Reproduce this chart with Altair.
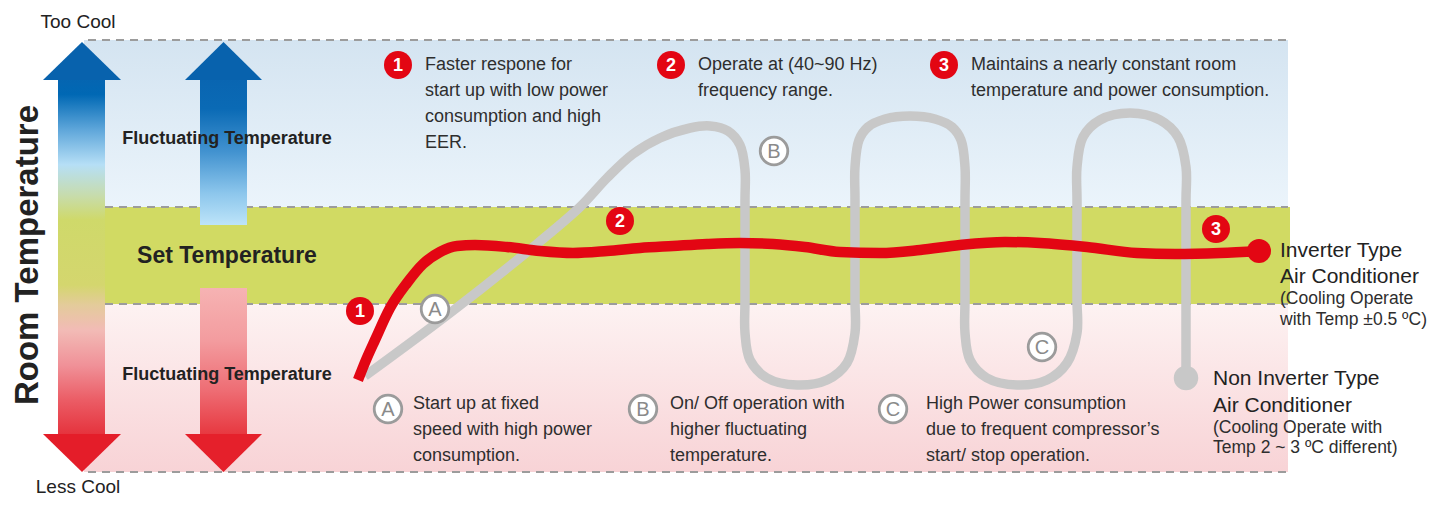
import altair as alt
import pandas as pd

FONT = "Liberation Sans"

# ---------------- drawing frame ----------------
# horizontal: elapsed time, vertical: room temperature (screen-like frame)
X_DOMAIN = [8, 1443]
Y_DOMAIN = [498, 8]

# ---------------- temperature zones ----------------
band_id = ["cool", "set", "warm"]
band_left = [84, 84, 84]
band_right = [1288, 1290, 1288]
band_top = [40, 207, 304]
band_bottom = [207, 304, 472]

limit_y = [40, 207, 304, 472]
limit_left = [88, 105, 105, 88]
limit_right = [1288, 1288, 1288, 1288]

# ---------------- arrows ----------------
# shafts: left, right, top, bottom
shaft_id = ["big", "up", "down"]
shaft_left = [58, 200, 200]
shaft_right = [105, 247, 247]
shaft_top = [79.5, 79.5, 288]
shaft_bottom = [434.5, 225, 434.5]

# heads: triangle outline (x, tip/base level), base level
head_id = ["big_top", "big_top", "big_top", "big_bot", "big_bot", "big_bot",
           "up_top", "up_top", "up_top", "down_bot", "down_bot", "down_bot"]
head_x = [43, 82, 121, 43, 82, 121, 185, 223.5, 262, 185, 223.5, 262]
head_y = [80, 42, 80, 434, 472, 434, 80, 42, 80, 434, 472, 434]
head_base = [80, 80, 80, 434, 434, 434, 80, 80, 80, 434, 434, 434]

# ---------------- non inverter (grey) temperature path ----------------
non_inv_x = [365, 450, 527, 580, 607, 633, 660, 690, 710, 728, 740, 745, 745, 745, 745,
             750, 767, 797, 827, 847, 855, 855, 855, 855, 859, 868, 885, 910, 935, 952,
             961, 965, 965, 965, 965, 970, 987, 1017, 1047, 1067, 1077, 1077, 1077, 1077,
             1083, 1100, 1130, 1160, 1178, 1186, 1186, 1186, 1186]
non_inv_y = [376, 313, 252, 207, 178, 154, 138, 128, 126, 131, 145, 170, 200, 300, 333,
             360, 378, 385, 380, 363, 333, 300, 200, 167, 140, 127, 119, 116, 119, 127,
             140, 167, 200, 300, 333, 360, 378, 385, 380, 363, 333, 300, 200, 167,
             137, 120, 113, 120, 137, 167, 200, 300, 378]

# ---------------- inverter (red) temperature path ----------------
inv_x = [358, 366, 375, 390, 407, 423, 440, 457, 475, 507, 540, 573, 607, 640, 673,
         707, 740, 773, 805, 840, 880, 920, 960, 1005, 1040, 1087, 1137, 1175, 1220, 1259]
inv_y = [380, 360, 340, 308, 283, 264, 252, 246, 245, 247, 251, 253, 251, 248, 246,
         244, 243, 244, 247, 252, 253, 250, 245, 242, 243, 247, 253, 254, 253, 251]

# ---------------- markers ----------------
step_label = ["1", "2", "3", "1", "2", "3"]
step_x = [398, 671, 944, 360, 620, 1216]
step_y = [65, 65, 65, 311, 221, 229]

case_label = ["A", "B", "C", "A", "B", "C"]
case_x = [388, 643, 893, 435, 774, 1042]
case_y = [409, 409, 409, 309, 151, 347]

inv_end = (1259, 251)
non_inv_end = (1186, 378)

# ---------------- texts ----------------
note_text = ["Faster respone for", "start up with low power", "consumption and high", "EER.",
             "Operate at (40~90 Hz)", "frequency range.",
             "Maintains a nearly constant room", "temperature and power consumption.",
             "Start up at fixed", "speed with high power", "consumption.",
             "On/ Off operation with", "higher fluctuating", "temperature.",
             "High Power consumption", "due to frequent compressor’s", "start/ stop operation."]
note_x = [425, 425, 425, 425, 698, 698, 971, 971, 413, 413, 413, 670, 670, 670, 926, 926, 926]
note_y = [70, 96, 122, 148, 70, 96, 70, 96, 409, 435, 461, 409, 435, 461, 409, 435, 461]

type_text = ["Inverter Type", "Air Conditioner", "Non Inverter Type", "Air Conditioner"]
type_x = [1280, 1280, 1213, 1213]
type_y = [257, 283, 385, 412]

type_note = ["(Cooling Operate", "with Temp ±0.5 ºC)", "(Cooling Operate with", "Temp 2 ~ 3 ºC different)"]
type_note_x = [1280, 1280, 1213, 1213]
type_note_y = [304, 325, 433, 453]

end_text = ["Too Cool", "Less Cool"]
end_x = [78, 78]
end_y = [28, 493]

fluct_text = ["Fluctuating Temperature", "Fluctuating Temperature"]
fluct_x = [227, 227]
fluct_y = [144, 380]

set_text = ["Set Temperature"]
set_x = [227]
set_y = [263]

axis_text = ["Room Temperature"]
axis_x = [38]
axis_y = [255]


# ---------------- helpers ----------------
def X(f):
    return alt.X(f"{f}:Q", scale=alt.Scale(domain=X_DOMAIN, nice=False, zero=False), axis=None)


def Y(f):
    return alt.Y(f"{f}:Q", scale=alt.Scale(domain=Y_DOMAIN, nice=False, zero=False), axis=None)


def vgrad(stops):
    return alt.LinearGradient(
        gradient="linear", x1=0, x2=0, y1=0, y2=1,
        stops=[alt.GradientStop(offset=o, color=c) for o, c in stops],
    )


layers = []

bands = pd.DataFrame({"id": band_id, "x0": band_left, "x1": band_right,
                      "y0": band_top, "y1": band_bottom})
band_fills = {
    "cool": vgrad([(0, "#d4e4f1"), (1, "#ebf4fb")]),
    "set": vgrad([(0, "#d1da63"), (1, "#d1da63")]),
    "warm": vgrad([(0, "#fdf2f2"), (1, "#f8d3d6")]),
}
for bid in band_id:
    layers.append(
        alt.Chart(bands).transform_filter(alt.datum.id == bid)
        .mark_rect(fill=band_fills[bid], opacity=1)
        .encode(x=X("x0"), x2="x1", y=Y("y0"), y2="y1")
    )

limits = pd.DataFrame({"y": limit_y, "x0": limit_left, "x1": limit_right})
layers.append(
    alt.Chart(limits).mark_rule(color="#9c9c9c", strokeWidth=1.8, strokeDash=[8, 6])
    .encode(x=X("x0"), x2="x1", y=Y("y"))
)

# arrows
shafts = pd.DataFrame({"id": shaft_id, "x0": shaft_left, "x1": shaft_right,
                       "y0": shaft_top, "y1": shaft_bottom})
shaft_fills = {
    "big": vgrad([(0.0, "#0565b1"), (0.042, "#0068b4"), (0.141, "#5ea6da"), (0.240, "#b6dff6"),
                  (0.325, "#c7dcae"), (0.395, "#cfd96a"), (0.579, "#d4d66e"), (0.636, "#e4cb9b"),
                  (0.706, "#f2bbb6"), (0.805, "#f09198"), (0.904, "#eb5c65"), (1.0, "#e5333d")]),
    "up": vgrad([(0.0, "#0965b1"), (0.2, "#0a6ab5"), (0.5, "#4393d0"), (0.78, "#8cc6ec"),
                 (1.0, "#bde4f9")]),
    "down": vgrad([(0.0, "#f6b3b3"), (0.356, "#f39c9f"), (0.699, "#ee6d74"), (1.0, "#e73840")]),
}
for sid in shaft_id:
    layers.append(
        alt.Chart(shafts).transform_filter(alt.datum.id == sid)
        .mark_rect(fill=shaft_fills[sid], opacity=1)
        .encode(x=X("x0"), x2="x1", y=Y("y0"), y2="y1")
    )

heads = pd.DataFrame({"id": head_id, "x": head_x, "y": head_y, "b": head_base})
head_colors = {"big_top": "#0862ad", "up_top": "#0862ad", "big_bot": "#e41d29", "down_bot": "#e5202b"}
for hid, col in head_colors.items():
    layers.append(
        alt.Chart(heads).transform_filter(alt.datum.id == hid)
        .mark_area(color=col, opacity=1)
        .encode(x=X("x"), y=Y("y"), y2="b")
    )


def texts(t, xs, ys, baseline="alphabetic", **kw):
    df = pd.DataFrame({"t": t, "x": xs, "y": ys})
    return (alt.Chart(df).mark_text(font=FONT, baseline=baseline, **kw)
            .encode(x=X("x"), y=Y("y"), text="t:N"))


layers.append(texts(fluct_text, fluct_x, fluct_y, fontSize=18, fontWeight="bold",
                    color="#222222", align="center"))
layers.append(texts(set_text, set_x, set_y, fontSize=23, fontWeight="bold",
                    color="#222222", align="center"))
layers.append(texts(axis_text, axis_x, axis_y, fontSize=33, fontWeight="bold",
                    color="#222222", align="center", angle=270))
layers.append(texts(end_text, end_x, end_y, fontSize=19, color="#222222", align="center"))

# curves
grey = pd.DataFrame({"i": list(range(len(non_inv_x))), "x": non_inv_x, "y": non_inv_y})
layers.append(
    alt.Chart(grey).mark_line(color="#c8c8c8", strokeWidth=9.5, interpolate="catmull-rom",
                              strokeJoin="round")
    .encode(x=X("x"), y=Y("y"), order="i:Q")
)
red = pd.DataFrame({"i": list(range(len(inv_x))), "x": inv_x, "y": inv_y})
layers.append(
    alt.Chart(red).mark_line(color="#e30613", strokeWidth=10.5, interpolate="monotone")
    .encode(x=X("x"), y=Y("y"), order="i:Q")
)

ends = pd.DataFrame({"x": [inv_end[0], non_inv_end[0]], "y": [inv_end[1], non_inv_end[1]],
                     "k": ["inv", "non"]})
layers.append(
    alt.Chart(ends).transform_filter(alt.datum.k == "inv")
    .mark_circle(size=576, color="#e30613", opacity=1).encode(x=X("x"), y=Y("y"))
)
layers.append(
    alt.Chart(ends).transform_filter(alt.datum.k == "non")
    .mark_circle(size=600, color="#c8c8c8", opacity=1).encode(x=X("x"), y=Y("y"))
)

# step markers (red, numbered)
steps = pd.DataFrame({"t": step_label, "x": step_x, "y": step_y})
layers.append(
    alt.Chart(steps).mark_circle(size=784, color="#e30613", opacity=1)
    .encode(x=X("x"), y=Y("y"))
)
layers.append(texts(step_label, step_x, step_y, baseline="middle", fontSize=18,
                    fontWeight="bold", color="white", align="center", dy=1))

# case markers (grey outline, lettered)
cases = pd.DataFrame({"t": case_label, "x": case_x, "y": case_y})
layers.append(
    alt.Chart(cases).mark_circle(size=760, fill="white", stroke="#9b9b9b", strokeWidth=2.8,
                                 opacity=1)
    .encode(x=X("x"), y=Y("y"))
)
layers.append(texts(case_label, case_x, case_y, baseline="middle", fontSize=20,
                    color="#8a8a8a", align="center", dy=1))

# notes and labels
layers.append(texts(note_text, note_x, note_y, fontSize=18, color="#2e2e2e", align="left"))
layers.append(texts(type_text, type_x, type_y, fontSize=21, color="#222222", align="left"))
layers.append(texts(type_note, type_note_x, type_note_y, fontSize=17.5, color="#2e2e2e",
                    align="left"))

chart = (
    alt.layer(*layers)
    .properties(width=1435, height=490, padding=0, background="white",
                autosize=alt.AutoSizeParams(type="none"))
    .configure_view(stroke=None)
)

chart.save("out.html", embed_options={"renderer": "svg", "actions": False})
